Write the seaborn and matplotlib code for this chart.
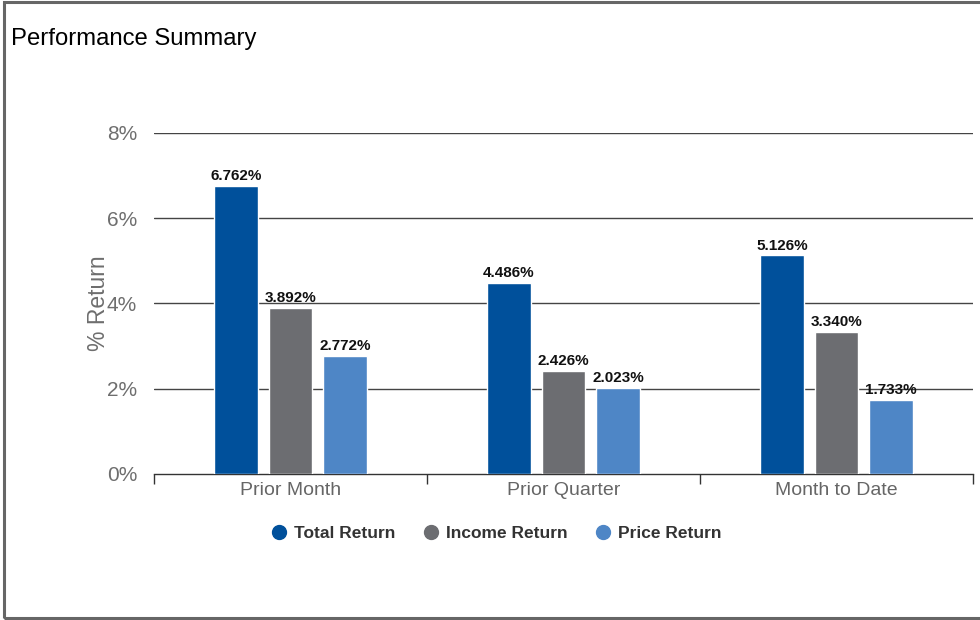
import matplotlib
matplotlib.use("Agg")
import matplotlib.pyplot as plt
import seaborn as sns
import pandas as pd
from matplotlib.lines import Line2D
from matplotlib.patches import Rectangle
from matplotlib.ticker import FixedLocator

categories = ["Prior Month", "Prior Quarter", "Month to Date"]
series_names = ["Total Return", "Income Return", "Price Return"]
total_return = [6.762, 4.486, 5.126]
income_return = [3.892, 2.426, 3.340]
price_return = [2.772, 2.023, 1.733]
y_ticks = [0, 2, 4, 6, 8]
y_tick_labels = ["0%", "2%", "4%", "6%", "8%"]
colors = ["#00509B", "#6C6D71", "#4E86C6"]

rows = []
for name, vals in zip(series_names, [total_return, income_return, price_return]):
    for c, v in zip(categories, vals):
        rows.append({"Category": c, "Series": name, "Value": v})
df = pd.DataFrame(rows)

sns.set_theme(style="white")
plt.rcParams["font.family"] = ["Liberation Sans", "DejaVu Sans"]

fig = plt.figure(figsize=(9.8, 6.2), dpi=100)
ax = fig.add_axes([0.157, 0.2355, 0.836, 0.55])

sns.barplot(data=df, x="Category", y="Value", hue="Series", order=categories,
            hue_order=series_names, palette=colors, width=0.6, gap=0.2,
            saturation=1, ax=ax, legend=False, errorbar=None, zorder=3)

for cont in ax.containers:
    ax.bar_label(cont, labels=[f"{v:.3f}%" for v in cont.datavalues], padding=2,
                 fontsize=11, fontweight="bold", color="#111111", zorder=4)

ax.set_ylim(0, 8)
ax.set_xlim(-0.5, 2.5)
ax.set_yticks(y_ticks)
ax.set_yticklabels(y_tick_labels, fontsize=15, color="#6E6E6E")
ax.tick_params(axis="y", length=0, pad=12)
for y in y_ticks[1:]:
    ax.axhline(y, color="#444444", linewidth=1, zorder=1)

ax.set_xticks(range(len(categories)))
ax.set_xticklabels(categories, fontsize=14, color="#666666")
ax.tick_params(axis="x", which="major", length=0, pad=6)
ax.xaxis.set_minor_locator(FixedLocator([-0.5, 0.5, 1.5, 2.5]))
ax.tick_params(axis="x", which="minor", length=7, width=1, color="#333333", bottom=True)

for s in ["top", "right", "left"]:
    ax.spines[s].set_visible(False)
ax.spines["bottom"].set_color("#333333")
ax.spines["bottom"].set_linewidth(1)

ax.set_xlabel("")
ax.set_ylabel("% Return", fontsize=16.5, color="#6E6E6E", labelpad=-2)

fig.text(0.011, 0.937, "Performance Summary", fontsize=17.2, color="#000000",
         ha="left", va="center")

handles = [Line2D([0], [0], marker="o", linestyle="none", markersize=10,
                  markerfacecolor=c, markeredgecolor=c) for c in colors]
fig.legend(handles, series_names, loc="center", bbox_to_anchor=(0.507, 0.14),
           ncol=3, frameon=False, handlelength=0.8, handletextpad=0.45,
           columnspacing=1.65, prop={"size": 12.5, "weight": "bold"},
           labelcolor="#333333")

fig.patches.append(Rectangle((0.0045, 0.004), 1.2, 0.993, transform=fig.transFigure,
                             fill=False, edgecolor="#666666", linewidth=2.2))

fig.savefig("out.png", dpi=100)
